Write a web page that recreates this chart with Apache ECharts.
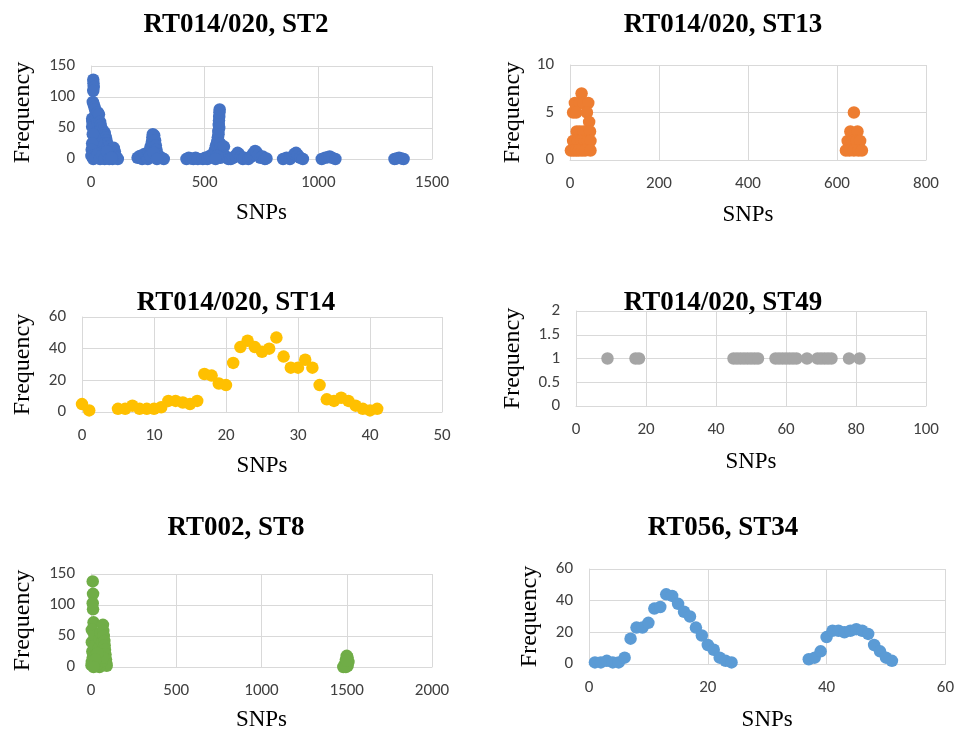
<!DOCTYPE html>
<html>
<head>
<meta charset="utf-8">
<script src="https://cdn.jsdelivr.net/npm/echarts@6/dist/echarts.min.js"></script>
<style>
html,body{margin:0;padding:0;background:#fff;}
#chart{width:957px;height:734px;}
</style>
</head>
<body>
<div id="chart"></div>
<script>
// ---- Titles ----
const panelTitles = ["RT014/020, ST2", "RT014/020, ST13", "RT014/020, ST14", "RT014/020, ST49", "RT002, ST8", "RT056, ST34"];

// ---- Axis ranges (min 0) ----
const xMax = [1500, 800, 50, 100, 2000, 60];
const xStep = [500, 200, 10, 20, 500, 20];
const yMax = [150, 10, 60, 2, 150, 60];
const yStep = [50, 5, 20, 0.5, 50, 20];

// ---- Data: [SNPs, Frequency] ----
const st2Points = [
  [10,128],[11,122],[12,116],[10,110],[8,92],[12,88],[15,84],[18,80],[5,65],[6,60],[5,52],
  [20,72],[22,66],[30,75],[35,72],[28,58],[40,60],[42,55],[45,50],[38,45],[55,45],[60,42],
  [62,38],[65,35],[68,30],[58,25],[70,25],[50,20],[80,20],[85,15],[90,10],[100,18],[105,12],
  [108,5],[112,2],[118,0],[95,0],[85,3],[75,5],[65,8],[55,2],[45,12],[35,18],[25,28],[15,35],
  [8,40],[5,25],[3,15],[2,5],[10,0],[20,3],[30,8],[40,0],[50,6],[60,0],[70,12],[80,0],[90,2],
  [205,2],[215,5],[225,0],[235,8],[245,3],[255,12],[262,20],[268,28],[270,35],[272,40],[278,38],
  [282,30],[285,22],[288,15],[292,8],[300,4],[310,2],[320,0],[250,0],[260,5],[275,10],[290,0],
  [420,0],[430,2],[440,1],[450,0],[460,2],[470,0],
  [492,0],[502,2],[512,0],[522,5],[532,3],[540,10],[545,15],[550,22],[555,28],[558,35],[560,45],
  [562,55],[563,62],[564,68],[565,75],[566,80],[564,50],[561,40],[558,30],[568,25],[572,18],
  [575,12],[580,8],[585,20],[590,5],[598,2],[605,0],[570,2],[555,5],[548,0],
  [615,0],[625,2],[635,5],[645,10],[650,8],[658,3],[668,0],[675,2],
  [692,0],[702,3],[712,8],[722,13],[728,11],[735,6],[745,2],[755,4],[765,0],[772,1],
  [845,0],[860,2],[875,0],[888,4],[895,8],[902,10],[910,6],[920,2],[932,0],
  [1015,0],[1030,2],[1042,3],[1050,4],[1060,2],[1075,0],
  [1335,0],[1345,1],[1355,2],[1365,1],[1375,0]
];
const st13Points = [
  [26,7],[11,6],[22,6],[30,6],[41,6],[7,5],[14,5],[38,5],[43,4],[15,3],[22,3],[30,3],[45,3],
  [7,2],[12,2],[18,2],[25,2],[33,2],[40,2],[46,2],[2,1],[8,1],[14,1],[20,1],[27,1],[34,1],[46,1],
  [638,5],[630,3],[646,3],[624,2],[634,2],[644,2],[652,2],[620,1],[628,1],[638,1],[648,1],[656,1]
];
const st14Points = [
  [0,5],[1,1],[5,2],[6,2],[7,4],[8,2],[9,2],[10,2],[11,3],[12,7],[13,7],[14,6],[15,5],[16,7],
  [17,24],[18,23],[19,18],[20,17],[21,31],[22,41],[23,45],[24,41],[25,38],[26,40],[27,47],
  [28,35],[29,28],[30,28],[31,33],[32,28],[33,17],[34,8],[35,7],[36,9],[37,7],[38,4],[39,2],
  [40,1],[41,2]
];
const st49Points = [
  [9,1],[17,1],[18,1],[45,1],[46,1],[47,1],[48,1],[49,1],[50,1],[51,1],[52,1],
  [57,1],[58,1],[59,1],[60,1],[61,1],[62,1],[63,1],[66,1],[69,1],[70,1],[71,1],[72,1],[73,1],
  [78,1],[81,1]
];
const st8Points = [
  [10,138],[12,118],[10,103],[12,93],[15,72],[5,60],[5,40],[8,25],[10,15],[5,8],[3,3],
  [20,50],[25,35],[30,20],[35,10],[40,5],[45,30],[50,45],[55,55],[60,25],[65,40],[70,68],
  [72,58],[75,50],[78,42],[80,35],[82,28],[85,20],[88,12],[90,5],[92,2],[50,0],[60,8],
  [70,15],[30,2],[20,5],[40,22],[25,12],[15,0],
  [1480,0],[1490,5],[1495,12],[1500,18],[1505,15],[1510,8],[1505,2],[1495,0],[1500,10]
];
const st34Points = [
  [1,1],[2,1],[3,2],[4,1],[5,1],[6,4],[7,16],[8,23],[9,23],[10,26],[11,35],[12,36],[13,44],
  [14,43],[15,38],[16,33],[17,30],[18,23],[19,18],[20,12],[21,9],[22,4],[23,2],[24,1],
  [37,3],[38,4],[39,8],[40,17],[41,21],[42,21],[43,20],[44,21],[45,22],[46,21],[47,19],
  [48,12],[49,8],[50,4],[51,2]
];

const seriesData = [st2Points, st13Points, st14Points, st49Points, st8Points, st34Points];
const colors = ['#4472C4', '#ED7D31', '#FFC000', '#A5A5A5', '#70AD47', '#5B9BD5'];

// ---- Layout ----
const grids = [
  {left: 91, top: 66, width: 341, height: 93},
  {left: 570, top: 65, width: 356, height: 95},
  {left: 82, top: 317, width: 360, height: 95},
  {left: 576, top: 311, width: 350, height: 95},
  {left: 91, top: 574, width: 341, height: 93},
  {left: 589, top: 569, width: 359, height: 95}
];
const titlePos = [[231, 7], [718, 7], [231, 285], [718, 285], [231, 510], [718, 510]];
const yNameGap = [56, 45, 47, 51, 56, 47];
const xNameGap = [42, 43, 42, 44, 41, 44];

const serif = "'Times New Roman', 'Liberation Serif', serif";
const sans = "Carlito, Calibri, Lato, sans-serif";
const gridColor = '#d9d9d9';

const option = {
  animation: false,
  backgroundColor: '#fff',
  title: panelTitles.map((t, i) => ({
    text: t, left: titlePos[i][0], top: titlePos[i][1], textAlign: 'center',
    textStyle: {fontFamily: serif, fontWeight: 'bold', fontSize: 27, color: '#000'}
  })),
  grid: grids.map(g => Object.assign({containLabel: false}, g)),
  xAxis: grids.map((g, i) => ({
    type: 'value', gridIndex: i, min: 0, max: xMax[i], interval: xStep[i],
    name: 'SNPs', nameLocation: 'middle', nameGap: xNameGap[i],
    nameTextStyle: {fontFamily: serif, fontSize: 23, color: '#000'},
    axisLine: {show: true, lineStyle: {color: gridColor, width: 1}},
    axisTick: {show: false},
    axisLabel: {margin: 15, fontFamily: sans, fontSize: 17, color: '#404040',
                formatter: v => String(v)},
    splitLine: {show: true, lineStyle: {color: gridColor, width: 1}}
  })),
  yAxis: grids.map((g, i) => ({
    type: 'value', gridIndex: i, min: 0, max: yMax[i], interval: yStep[i],
    name: 'Frequency', nameLocation: 'middle', nameGap: yNameGap[i],
    nameTextStyle: {fontFamily: serif, fontSize: 24, color: '#000'},
    axisLine: {show: true, lineStyle: {color: gridColor, width: 1}},
    axisTick: {show: false},
    axisLabel: {margin: 16, fontFamily: sans, fontSize: 17, color: '#404040',
                formatter: v => String(v)},
    splitLine: {show: true, lineStyle: {color: gridColor, width: 1}}
  })),
  series: seriesData.map((d, i) => ({
    type: 'scatter', xAxisIndex: i, yAxisIndex: i, data: d,
    symbol: 'circle', symbolSize: 12.5,
    itemStyle: {color: colors[i], opacity: 1}
  }))
};

const chart = echarts.init(document.getElementById('chart'), null, {renderer: 'canvas'});
chart.setOption(option);
</script>
</body>
</html>
